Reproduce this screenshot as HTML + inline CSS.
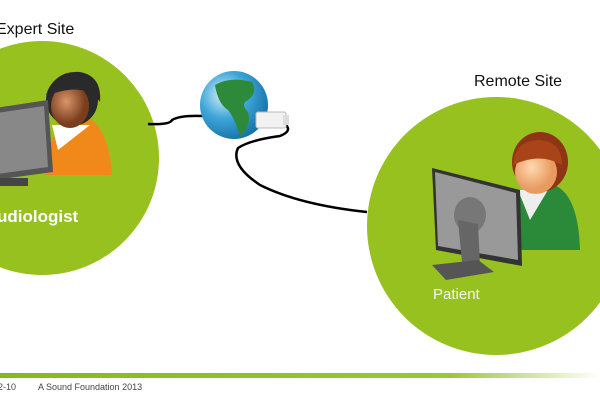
<!DOCTYPE html>
<html><head><style>
body{margin:0;width:600px;height:400px;overflow:hidden;background:#fff;font-family:"Liberation Sans",sans-serif}
</style></head><body>
<svg width="600" height="400" xmlns="http://www.w3.org/2000/svg">
<defs>
<linearGradient id="bar" x1="0" x2="1"><stop offset="0" stop-color="#86b81f"/><stop offset="0.75" stop-color="#9cc63a"/><stop offset="1" stop-color="#fff"/></linearGradient>
<radialGradient id="globe" cx="0.35" cy="0.35" r="0.7"><stop offset="0" stop-color="#d8f0fb"/><stop offset="0.5" stop-color="#3ea6d8"/><stop offset="1" stop-color="#1671a8"/></radialGradient>
<radialGradient id="skin1" cx="0.4" cy="0.4"><stop offset="0" stop-color="#d9956a"/><stop offset="1" stop-color="#7a3e1e"/></radialGradient>
<radialGradient id="skin2" cx="0.4" cy="0.4"><stop offset="0" stop-color="#ffd9b0"/><stop offset="1" stop-color="#e89a60"/></radialGradient>
</defs>
<circle cx="42" cy="158" r="117" fill="#97c11f"/>
<circle cx="496" cy="226" r="129" fill="#97c11f"/>
<text x="-4" y="34" font-size="16" fill="#111">Expert Site</text>
<text x="474" y="86" font-size="16" fill="#111">Remote Site</text>
<!-- audiologist -->
<path d="M45 175 Q50 118 78 115 Q108 118 112 175 Z" fill="#f0891a"/>
<path d="M52 125 L58 150 L90 125 Z" fill="#fff"/>
<circle cx="72" cy="100" r="26" fill="#2a2a2a"/>
<ellipse cx="70" cy="106" rx="19" ry="22" fill="url(#skin1)"/>
<path d="M46 95 Q55 70 80 72 Q102 76 100 102 Q88 84 58 92 Z" fill="#2a2a2a"/>
<path d="M-5 108 L48 100 L53 172 L-5 180 Z" fill="#555"/>
<path d="M-3 113 L44 106 L48 167 L-3 174 Z" fill="#888"/>
<rect x="0" y="178" width="28" height="8" fill="#444"/>
<text x="-3" y="222" font-size="17" font-weight="bold" fill="#fff">udiologist</text>
<!-- patient -->
<path d="M508 250 Q510 185 545 183 Q578 185 580 250 Z" fill="#2b8a3a"/>
<path d="M518 190 L530 220 L548 190 Z" fill="#eee"/>
<ellipse cx="540" cy="162" rx="28" ry="30" fill="#8f3415"/>
<ellipse cx="536" cy="172" rx="21" ry="22" fill="url(#skin2)"/>
<path d="M513 165 Q515 140 540 140 Q562 142 562 165 Q540 152 513 165 Z" fill="#a84418"/>
<path d="M432 168 L520 190 L522 266 L436 250 Z" fill="#333"/>
<path d="M435 172 L516 193 L518 260 L438 246 Z" fill="#999"/>
<ellipse cx="470" cy="215" rx="16" ry="18" fill="#777"/>
<path d="M458 220 L478 224 L480 265 L462 262 Z" fill="#666"/>
<path d="M432 265 L478 260 L494 272 L446 280 Z" fill="#555"/>
<text x="433" y="299" font-size="15" fill="#f4f4f4">Patient</text>
<!-- cables -->
<path d="M148 124 Q170 125 172 120 Q180 115 203 116" stroke="#000" stroke-width="2.5" fill="none"/>
<path d="M282 122 Q295 130 280 136 Q250 140 238 148 Q230 165 260 185 Q300 205 367 212" stroke="#000" stroke-width="2.5" fill="none"/>
<!-- globe -->
<circle cx="234" cy="105" r="34" fill="url(#globe)"/>
<path d="M215 85 Q230 76 252 82 Q258 92 248 100 Q240 104 248 112 Q252 125 240 137 Q236 120 228 110 Q218 104 215 85 Z" fill="#2d8a3a"/>
<rect x="256" y="112" width="30" height="16" rx="2" fill="#f2f2f2" stroke="#bbb"/>
<rect x="283" y="115" width="6" height="10" fill="#ddd"/>
<!-- footer -->
<rect x="0" y="373" width="600" height="5" fill="url(#bar)"/>
<text x="-2" y="390" font-size="9" fill="#444">2-10</text>
<text x="38" y="390" font-size="9" fill="#444">A Sound Foundation 2013</text>
</svg>
</body></html>
